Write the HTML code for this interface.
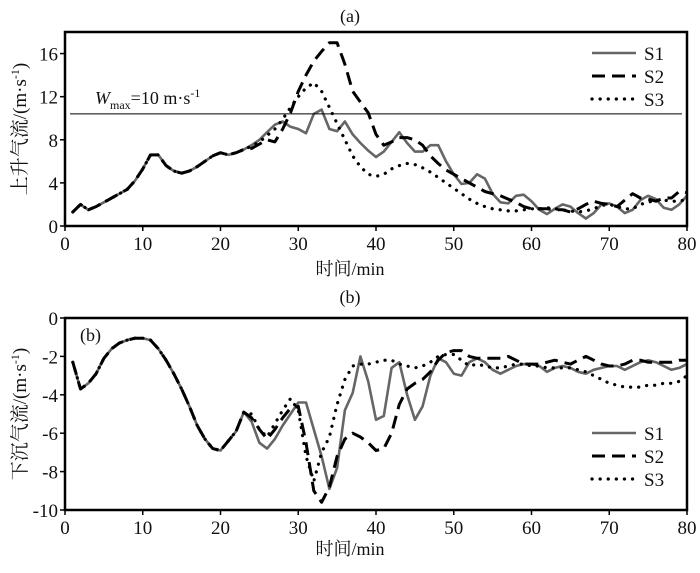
<!DOCTYPE html>
<html><head><meta charset="utf-8"><style>
body{margin:0;background:#fff}
svg text{font-family:"Liberation Serif","Noto Serif CJK SC",serif;fill:#111}
</style></head><body>
<svg id="c" width="700" height="568" xmlns="http://www.w3.org/2000/svg"></svg>
<script>
const minutes=[];for(let m=1;m<=80;m++)minutes.push(m);
const upPrefix=[1.3,2.0,1.5,1.8,2.2,2.6,3.0,3.4,4.2,5.3,6.6,6.6,5.6,5.1,4.9,5.1,5.5,6.0,6.5,6.8,6.6,6.8,7.1];
const upS1=upPrefix.concat([7.5,8.0,8.7,9.4,9.7,9.2,9.0,8.6,10.4,10.8,9.0,8.8,9.7,8.5,7.7,7.0,6.4,6.9,7.8,8.7,7.7,6.9,6.9,7.5,7.5,6.0,4.8,3.9,4.0,4.8,4.4,3.0,2.2,2.1,2.8,2.9,2.3,1.5,1.1,1.6,2.0,1.8,1.2,0.7,1.2,2.0,2.1,1.8,1.2,1.5,2.4,2.8,2.5,1.7,1.5,2.0,2.8]);
const upS2=upPrefix.concat([7.2,7.6,8.0,7.8,9.0,10.5,12.5,14.0,15.3,16.2,17.0,17.0,15.0,12.5,11.5,10.5,8.5,7.5,7.8,8.2,8.2,8.0,7.5,6.5,5.8,5.2,4.8,4.4,4.0,3.6,3.2,3.0,2.8,2.5,2.2,1.8,1.6,1.6,1.6,1.5,1.5,1.3,1.6,2.0,2.3,2.1,2.0,1.8,2.4,3.0,2.6,2.5,2.3,2.6,2.6,3.2,3.1]);
const upS3=upPrefix.concat([7.4,7.8,8.4,9.0,9.9,11.0,12.0,12.8,13.3,12.5,11.0,9.5,8.0,6.5,5.5,4.8,4.6,4.8,5.3,5.6,5.8,5.7,5.4,5.0,4.5,4.0,3.5,3.0,2.5,2.1,1.8,1.6,1.5,1.4,1.4,1.5,1.6,1.6,1.7,1.6,1.5,1.4,1.3,1.4,1.6,1.9,2.0,1.8,1.6,1.6,2.0,2.2,2.4,2.4,2.3,2.3,2.5]);
const dnPrefix=[-2.3,-3.7,-3.4,-2.9,-2.1,-1.6,-1.3,-1.15,-1.05,-1.05,-1.15,-1.6,-2.2,-2.9,-3.7,-4.6,-5.6,-6.3,-6.8,-6.9,-6.4,-5.9,-4.9];
const dnS1=dnPrefix.concat([-5.4,-6.5,-6.8,-6.3,-5.6,-5.0,-4.4,-4.4,-5.8,-7.2,-8.9,-7.8,-4.8,-3.9,-2.0,-3.3,-5.3,-5.1,-2.6,-2.3,-4.0,-5.3,-4.6,-3.0,-2.1,-2.3,-2.9,-3.0,-2.3,-2.1,-2.3,-2.7,-2.9,-2.7,-2.5,-2.4,-2.4,-2.5,-2.8,-2.6,-2.5,-2.6,-2.8,-2.9,-2.7,-2.6,-2.5,-2.5,-2.7,-2.5,-2.3,-2.2,-2.3,-2.5,-2.7,-2.6,-2.4]);
const dnS2=dnPrefix.concat([-5.2,-5.8,-6.3,-5.8,-5.2,-4.7,-4.6,-6.5,-9.0,-9.6,-8.8,-7.2,-6.3,-6.0,-6.2,-6.5,-6.9,-6.8,-6.0,-4.5,-3.7,-3.4,-3.2,-2.8,-2.2,-1.8,-1.7,-1.7,-2.0,-2.1,-2.1,-2.1,-2.1,-2.0,-2.2,-2.4,-2.4,-2.4,-2.3,-2.2,-2.3,-2.4,-2.2,-2.0,-2.2,-2.4,-2.5,-2.5,-2.4,-2.2,-2.2,-2.3,-2.3,-2.3,-2.3,-2.2,-2.2]);
const dnS3=dnPrefix.concat([-5.0,-5.8,-6.2,-5.5,-4.8,-4.2,-4.8,-7.2,-8.5,-7.0,-6.2,-4.5,-3.2,-2.5,-2.4,-2.4,-2.3,-2.2,-2.2,-2.4,-2.5,-2.6,-2.5,-2.3,-2.0,-1.9,-1.9,-2.2,-2.5,-2.4,-2.5,-2.6,-2.6,-2.5,-2.4,-2.4,-2.5,-2.5,-2.6,-2.6,-2.6,-2.6,-2.7,-2.8,-3.0,-3.2,-3.4,-3.5,-3.6,-3.6,-3.6,-3.5,-3.5,-3.4,-3.4,-3.3,-3.0]);
const xTicks=[0,10,20,30,40,50,60,70,80];
const upTicks=[0,4,8,12,16];
const dnTicks=[0,-2,-4,-6,-8,-10];
const wmax=10.4;

const svg=document.getElementById('c');const NS='http://www.w3.org/2000/svg';
function mk(tag,attrs,parent,text){const e=document.createElementNS(NS,tag);for(const k in attrs)e.setAttribute(k,attrs[k]);if(text!==undefined)e.textContent=text;(parent||svg).appendChild(e);return e;}
const X0=65,X1=687;
const sx=v=>X0+(X1-X0)*v/80;
const styles={S1:{stroke:'#666','stroke-width':2.6},S2:{stroke:'#000','stroke-width':3,'stroke-dasharray':'13,7'},S3:{stroke:'#000','stroke-width':3.2,'stroke-dasharray':'0.1,8','stroke-linecap':'round'}};

function panel(name,top,bottom,yMin,yMax,ticks,series,title,yTitle,legY,titleY,xlabY){
  const sy=v=>bottom-(bottom-top)*(v-yMin)/(yMax-yMin);
  const g=mk('g',{});
  
  
  const t=mk('text',{x:350,y:titleY,'text-anchor':'middle','font-size':18},g,title);
  
  ticks.forEach(v=>{
    mk('line',{x1:X0,x2:X0-5,y1:sy(v),y2:sy(v),stroke:'#000','stroke-width':1.5},g);
    const l=mk('text',{x:X0-7,y:sy(v)+7,'text-anchor':'end','font-size':19},g,String(v));
    
  });
  xTicks.forEach(v=>{
    mk('line',{x1:sx(v),x2:sx(v),y1:bottom,y2:bottom+5,stroke:'#000','stroke-width':1.5},g);
    const l=mk('text',{x:sx(v),y:bottom+24,'text-anchor':'middle','font-size':19},g,String(v));
    
  });
  const xl=mk('text',{x:350,y:xlabY,'text-anchor':'middle','font-size':18},g,'时间/min');
  
  const cy=(top+bottom)/2;
  const yl=mk('text',{x:0,y:0,transform:`translate(26,${cy}) rotate(-90)`,'text-anchor':'middle','font-size':19},g);
  
  yl.innerHTML=yTitle+'/(m·s<tspan dy="-7" font-size="12">-1</tspan><tspan dy="7">)</tspan>';
  Object.keys(series).forEach(k=>{
    const d=series[k].map((v,i)=>(i?'L':'M')+sx(minutes[i]).toFixed(1)+','+sy(v).toFixed(1)).join(' ');
    const p=mk('path',Object.assign({d:d,fill:'none','stroke-linejoin':'round'},styles[k]),g);
    
  });
  Object.keys(series).forEach((k,i)=>{
    const y=legY+i*23;
    const l=mk('line',Object.assign({x1:592,x2:636,y1:y,y2:y},styles[k]),g);
    
    const tx=mk('text',{x:644,y:y+7,'font-size':19},g,k);
    
  });
  const b=mk('rect',{x:X0,y:top,width:X1-X0,height:bottom-top,fill:'none',stroke:'#000','stroke-width':2.5},g);
  
  return sy;
}
const syA=panel('panel-a',32,226,0,18,upTicks,{S1:upS1,S2:upS2,S3:upS3},'(a)','上升气流',53,22,275);
const wl=mk('line',{x1:70,x2:682,y1:syA(wmax),y2:syA(wmax),stroke:'#000','stroke-width':1});

const wt=mk('text',{x:95,y:104,'font-size':18});

wt.innerHTML='<tspan font-style="italic">W</tspan><tspan dy="5" font-size="12">max</tspan><tspan dy="-5">=10 m·s</tspan><tspan dy="-7" font-size="12">-1</tspan>';
panel('panel-b',318,510,-10,0,dnTicks,{S1:dnS1,S2:dnS2,S3:dnS3},'(b)','下沉气流',479-46,303,555);
const ib=mk('text',{x:80,y:341,'font-size':18},svg,'(b)');

</script>
</body></html>
